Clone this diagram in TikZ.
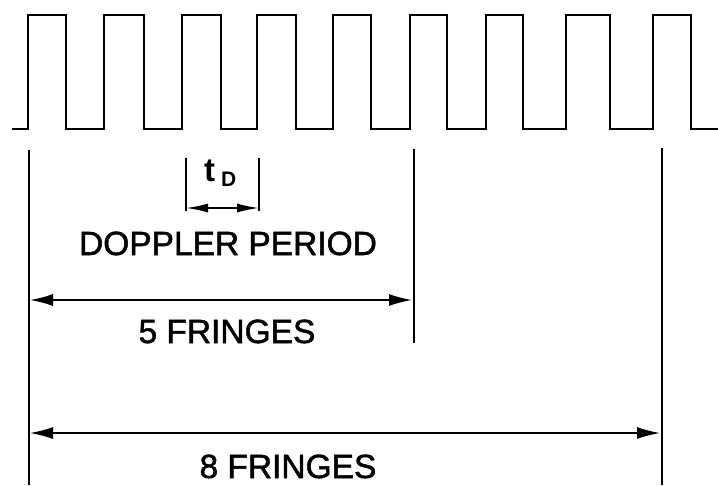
\documentclass[tikz,border=0pt]{standalone}
\usepackage{fontspec}
\setmainfont{Liberation Sans}
\newfontfamily\medfont[FakeBold=1.5]{Liberation Sans}
\usetikzlibrary{arrows.meta}
\begin{document}
\begin{tikzpicture}[x=1pt,y=-1pt,
  wave/.style={line width=2.8pt,line join=miter},
  dimline/.style={line width=1.2pt},
  dimarrow/.style={line width=1.6pt,{Latex[length=23pt,width=12pt]}-{Latex[length=23pt,width=12pt]}},
  smallarrow/.style={line width=1.6pt,{Latex[length=22pt,width=9pt]}-{Latex[length=22pt,width=9pt]}},
  lbl/.style={anchor=base,inner sep=0pt,font=\medfont\fontsize{33.5}{36}\selectfont}]
\useasboundingbox (0,0) rectangle (718,485);
% square wave
\draw[wave] (12,129) -- (28,129) -- (28,15) -- (66,15) -- (66,129)
  -- (104,129) -- (104,15) -- (144,15) -- (144,129)
  -- (182,129) -- (182,15) -- (221,15) -- (221,129)
  -- (257,129) -- (257,15) -- (296,15) -- (296,129)
  -- (333,129) -- (333,15) -- (371,15) -- (371,129)
  -- (410,129) -- (410,15) -- (447,15) -- (447,129)
  -- (486,129) -- (486,15) -- (523,15) -- (523,129)
  -- (566,129) -- (566,15) -- (610,15) -- (610,129)
  -- (653,129) -- (653,15) -- (691,15) -- (691,129) -- (718,129);
% dimension lines
\coordinate (ltop) at (29,150);
\coordinate (lbot) at (29,485);
\coordinate (mtop) at (414,149);
\coordinate (mbot) at (414,343);
\coordinate (rtop) at (662,148);
\coordinate (rbot) at (662,485);
\draw[dimline] (ltop) -- (lbot);
\draw[dimline] (mtop) -- (mbot);
\draw[dimline] (rtop) -- (rbot);
% t_D ticks
\coordinate (ttl) at (186,158);
\coordinate (tbl) at (186,211);
\coordinate (ttr) at (259,158);
\coordinate (tbr) at (259,211);
\draw[dimline] (ttl) -- (tbl);
\draw[dimline] (ttr) -- (tbr);
\coordinate (tal) at (186,208);
\coordinate (tar) at (259,208);
\draw[smallarrow] (tal) -- (tar);
\node[anchor=base west,inner sep=0pt,font=\bfseries\fontsize{33}{34}\selectfont] (tlab) at (204,181) {t};
\node[anchor=base west,inner sep=0pt,font=\bfseries\fontsize{21}{22}\selectfont] (dlab) at (221,186) {D};
% arrows
\coordinate (a5l) at (30,300);
\coordinate (a5r) at (412,300);
\draw[dimarrow] (a5l) -- (a5r);
\coordinate (a8l) at (30,433);
\coordinate (a8r) at (660,433);
\draw[dimarrow] (a8l) -- (a8r);
% labels
\node[lbl] (doppler) at (228,255) {DOPPLER PERIOD};
\node[lbl] (five) at (227,343) {5 FRINGES};
\node[lbl] (eight) at (288,478) {8 FRINGES};
\end{tikzpicture}
\end{document}
